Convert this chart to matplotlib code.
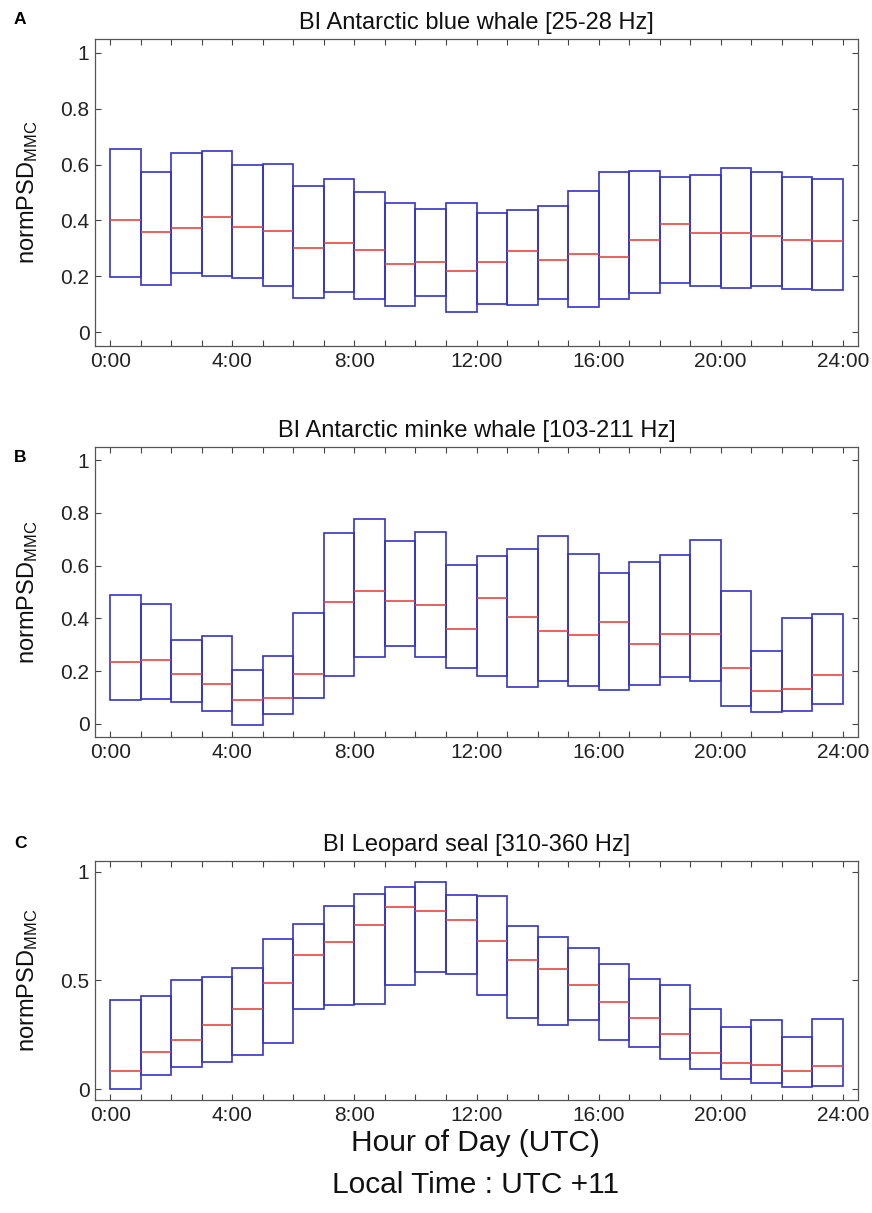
import numpy as np
import matplotlib
matplotlib.use('Agg')
import matplotlib.pyplot as plt

plt.rcParams['font.family'] = ['Liberation Sans', 'DejaVu Sans']
plt.rcParams['mathtext.fontset'] = 'custom'
plt.rcParams['mathtext.rm'] = 'Liberation Sans'
plt.rcParams['mathtext.it'] = 'Liberation Sans:italic'

hours = np.arange(24)

# panel A - blue whale
titleA = 'BI Antarctic blue whale [25-28 Hz]'
topA = [0.657, 0.575, 0.642, 0.648, 0.597, 0.601, 0.525, 0.547, 0.503, 0.462, 0.440, 0.464,
        0.428, 0.439, 0.453, 0.507, 0.573, 0.578, 0.557, 0.564, 0.587, 0.572, 0.557, 0.547]
medA = [0.403, 0.360, 0.373, 0.412, 0.376, 0.362, 0.302, 0.318, 0.295, 0.245, 0.252, 0.219,
        0.250, 0.292, 0.257, 0.281, 0.269, 0.330, 0.386, 0.356, 0.354, 0.344, 0.330, 0.325]
botA = [0.196, 0.167, 0.213, 0.202, 0.192, 0.164, 0.122, 0.143, 0.117, 0.093, 0.129, 0.073,
        0.102, 0.096, 0.117, 0.090, 0.117, 0.139, 0.177, 0.165, 0.158, 0.165, 0.153, 0.149]

# panel B - minke whale
titleB = 'BI Antarctic minke whale [103-211 Hz]'
topB = [0.489, 0.456, 0.317, 0.332, 0.203, 0.256, 0.421, 0.724, 0.777, 0.695, 0.728, 0.601,
        0.638, 0.663, 0.712, 0.644, 0.573, 0.612, 0.639, 0.697, 0.503, 0.278, 0.402, 0.416]
medB = [0.233, 0.242, 0.190, 0.150, 0.089, 0.098, 0.189, 0.463, 0.505, 0.467, 0.449, 0.360,
        0.479, 0.406, 0.352, 0.335, 0.386, 0.304, 0.342, 0.341, 0.210, 0.124, 0.131, 0.186]
botB = [0.089, 0.095, 0.083, 0.049, -0.005, 0.036, 0.099, 0.183, 0.252, 0.295, 0.255, 0.212,
        0.183, 0.141, 0.161, 0.143, 0.127, 0.148, 0.176, 0.162, 0.067, 0.043, 0.048, 0.074]

# panel C - leopard seal
titleC = 'BI Leopard seal [310-360 Hz]'
topC = [0.412, 0.429, 0.502, 0.517, 0.556, 0.689, 0.761, 0.842, 0.898, 0.930, 0.955, 0.894,
        0.891, 0.753, 0.700, 0.648, 0.576, 0.505, 0.481, 0.371, 0.288, 0.316, 0.241, 0.322]
medC = [0.085, 0.171, 0.226, 0.296, 0.369, 0.490, 0.616, 0.678, 0.755, 0.840, 0.819, 0.778,
        0.683, 0.596, 0.551, 0.481, 0.400, 0.328, 0.253, 0.166, 0.120, 0.109, 0.083, 0.106]
botC = [0.000, 0.067, 0.102, 0.125, 0.158, 0.212, 0.371, 0.388, 0.394, 0.479, 0.538, 0.531,
        0.435, 0.327, 0.297, 0.317, 0.226, 0.194, 0.140, 0.091, 0.047, 0.027, 0.010, 0.015]

xtick_labels = ['0:00', '4:00', '8:00', '12:00', '16:00', '20:00', '24:00']

W, H = 872, 1213
fig = plt.figure(figsize=(W / 100, H / 100), dpi=100)

def px_axes(left, top, right, bottom):
    return fig.add_axes([left / W, 1 - bottom / H, (right - left) / W, (bottom - top) / H])

panels = [
    (titleA, topA, medA, botA, (95, 39, 858, 346), [0, 0.2, 0.4, 0.6, 0.8, 1], 'A', 20),
    (titleB, topB, medB, botB, (95, 447, 858, 737), [0, 0.2, 0.4, 0.6, 0.8, 1], 'B', 458),
    (titleC, topC, medC, botC, (95, 861, 858, 1100), [0, 0.5, 1], 'C', 843),
]

blue = '#3434c8'
red = '#e8453f'

for title, top, med, bot, box, yt, letter, ly in panels:
    ax = px_axes(*box)
    top = np.array(top)
    bot = np.array(bot)
    ax.bar(hours + 0.5, top - bot, bottom=bot, width=1, fill=False,
           edgecolor=blue, linewidth=1.2)
    ax.hlines(med, hours, hours + 1, colors=red, linewidth=1.2)
    ax.set_xlim(-0.5, 24.5)
    ax.set_ylim(-0.05, 1.05)
    ax.set_xticks(np.arange(25))
    ax.set_xticklabels([xtick_labels[i // 4] if i % 4 == 0 else '' for i in range(25)])
    ax.set_yticks(yt)
    ax.set_yticklabels(['%g' % v for v in yt])
    ax.tick_params(direction='in', top=True, right=True, length=4, width=0.8,
                   labelsize=15, colors='#444444', labelcolor='#222222', pad=4)
    for s in ax.spines.values():
        s.set_color('#555555')
        s.set_linewidth(0.9)
    ax.set_title(title, fontsize=17, pad=7, color='#111111')
    ax.set_ylabel('normPSD$_{\\mathrm{MMC}}$', fontsize=17, color='#111111')
    ax.yaxis.set_label_coords(-0.072, 0.5)
    fig.text(20 / W, 1 - ly / H, letter, fontsize=12.5, fontweight='bold',
             ha='center', va='center')

fig.text(0.545, 1 - 1143 / H, 'Hour of Day (UTC)', fontsize=21.5, ha='center', va='center',
         color='#111111')
fig.text(0.545, 1 - 1185 / H, 'Local Time : UTC +11', fontsize=21.5, ha='center', va='center',
         color='#111111')

fig.savefig('out.png', dpi=100)
